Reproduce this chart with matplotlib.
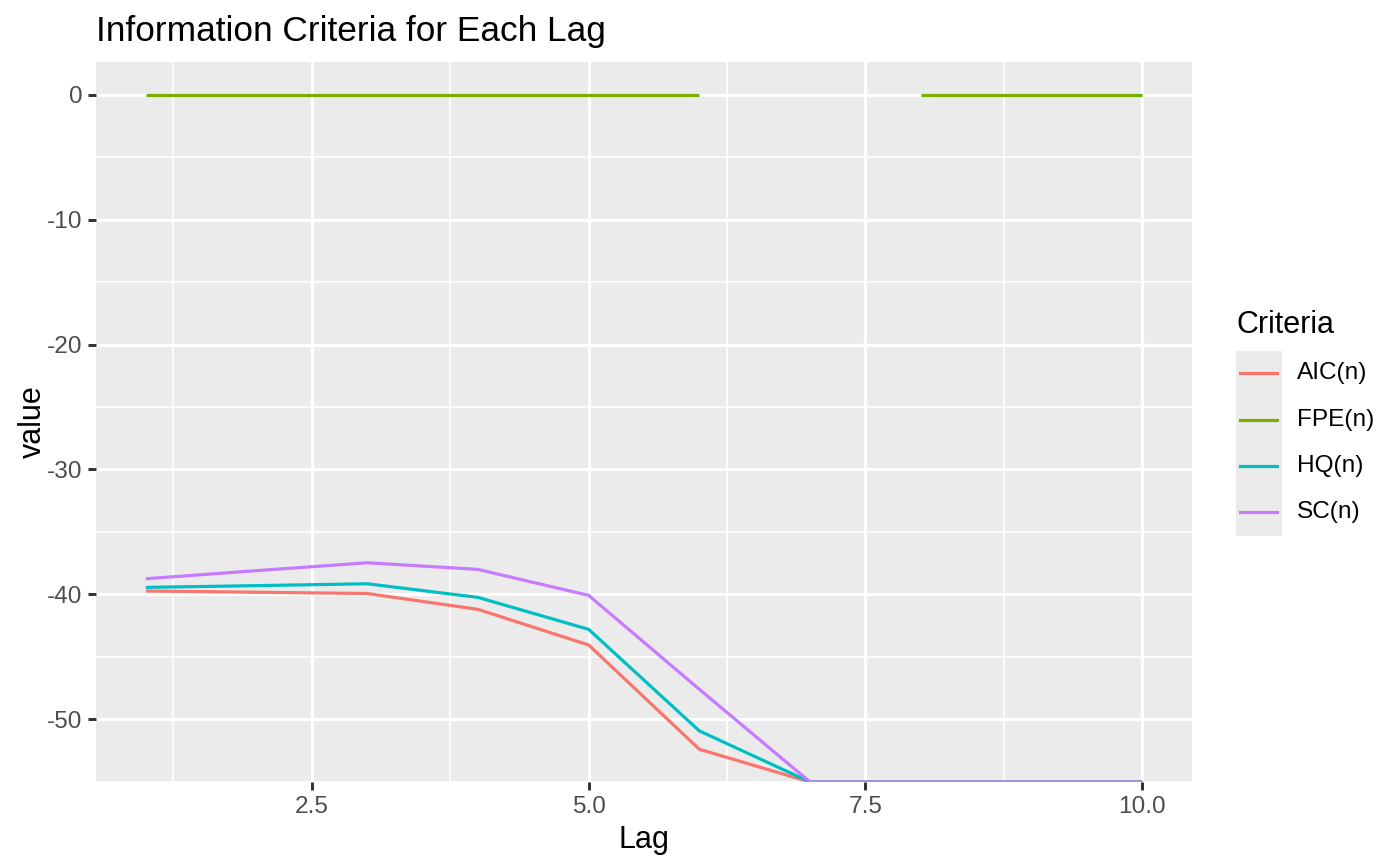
import numpy as np
import matplotlib
matplotlib.use("Agg")
import matplotlib.pyplot as plt
from matplotlib.lines import Line2D
from matplotlib.patches import Rectangle

plt.rcParams['font.family'] = ['Liberation Sans', 'DejaVu Sans']

lags = [1, 2, 3, 4, 5, 6, 7, 8, 9, 10]
ninf = -np.inf
aic = [-39.73, -39.83, -39.93, -41.2, -44.05, -52.4, ninf, ninf, ninf, ninf]
fpe = [0.0, 0.0, 0.0, 0.0, 0.0, 0.0, np.nan, 0.0, 0.0, 0.0]
hq = [-39.44, -39.3, -39.15, -40.24, -42.8, -50.93, ninf, ninf, ninf, ninf]
sc = [-38.75, -38.1, -37.47, -38.0, -40.08, -47.6, ninf, ninf, ninf, ninf]

series_names = ["AIC(n)", "FPE(n)", "HQ(n)", "SC(n)"]
series_vals = [aic, fpe, hq, sc]
colors = ["#F8766D", "#7CAE00", "#00BFC4", "#C77CFF"]

title = "Information Criteria for Each Lag"
xlabel = "Lag"
ylabel = "value"
legend_title = "Criteria"
xticks = [2.5, 5.0, 7.5, 10.0]
xtick_labels = ["2.5", "5.0", "7.5", "10.0"]
yticks = [0, -10, -20, -30, -40, -50]
ytick_labels = ["0", "-10", "-20", "-30", "-40", "-50"]

W, H = 1400, 866
fig = plt.figure(figsize=(7, 4.33), dpi=200)
pl, pr, pt, pb = 96, 1192, 62, 782
ax = fig.add_axes([pl / W, 1 - pb / H, (pr - pl) / W, (pb - pt) / H])
ax.set_facecolor("#EBEBEB")
for s in ax.spines.values():
    s.set_visible(False)

# limits ggplot-style (5% expansion over finite data)
allv = np.array([v for sv in series_vals for v in sv], dtype=float)
fin = allv[np.isfinite(allv)]
ymin, ymax = fin.min(), fin.max()
yr = ymax - ymin
ylo, yhi = ymin - 0.05 * yr, ymax + 0.05 * yr
xmin, xmax = min(lags), max(lags)
xr = xmax - xmin
ax.set_xlim(xmin - 0.05 * xr, xmax + 0.05 * xr)
ax.set_ylim(ylo, yhi)

# grid
lw_major = 1.15
lw_minor = 0.6
for xv in [1.25, 3.75, 6.25, 8.75]:
    ax.axvline(xv, color="white", lw=lw_minor, zorder=0.5)
for yv in [-5, -15, -25, -35, -45, -55]:
    ax.axhline(yv, color="white", lw=lw_minor, zorder=0.5)
for xv in xticks:
    ax.axvline(xv, color="white", lw=lw_major, zorder=0.6)
for yv in yticks:
    ax.axhline(yv, color="white", lw=lw_major, zorder=0.6)

line_w = 1.15
for name, vals, c in zip(series_names, series_vals, colors):
    arr = np.array(vals, dtype=float)
    arr = np.where(np.isneginf(arr), ylo, arr)
    arr = np.where(np.isposinf(arr), yhi, arr)
    ax.plot(lags, arr, color=c, lw=line_w, solid_capstyle="butt", zorder=2)

ax.set_xticks(xticks)
ax.set_xticklabels(xtick_labels)
ax.set_yticks(yticks)
ax.set_yticklabels(ytick_labels)
ax.tick_params(axis="both", length=2.75, width=1.07, color="#333333",
               labelcolor="#4D4D4D", labelsize=8.8, pad=2.2)

ax.set_xlabel(xlabel, fontsize=11, color="black", labelpad=2.75)
ax.set_ylabel(ylabel, fontsize=11, color="black", labelpad=-0.5)

fig.text(pl / W, 1 - 31 / H, title, fontsize=12.7, color="black",
         ha="left", va="center")

# legend
fig.text(1237 / W, 1 - 325 / H, legend_title, fontsize=11, ha="left", va="center")
fig.patches.append(Rectangle((1236 / W, 1 - 536 / H), 46 / W, 185 / H,
                             transform=fig.transFigure, facecolor="#EBEBEB",
                             edgecolor="none"))
key_y = [373, 420, 466, 512]
for name, c, ky in zip(series_names, colors, key_y):
    fig.lines.append(Line2D([1240 / W, 1277 / W], [1 - ky / H, 1 - ky / H],
                            transform=fig.transFigure, color=c, lw=line_w))
    fig.text(1297 / W, 1 - ky / H, name, fontsize=8.8, ha="left", va="center",
             color="black")

fig.savefig("out.png", dpi=200, facecolor="white")
